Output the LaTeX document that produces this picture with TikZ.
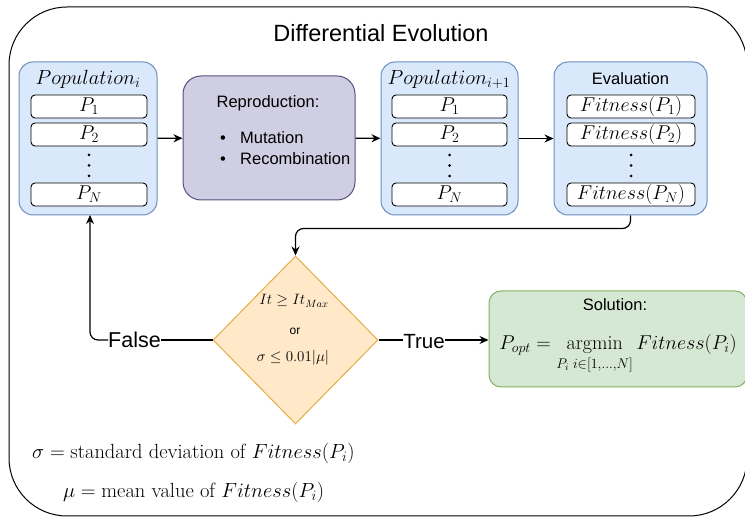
\RequirePackage{fix-cm}
\documentclass[tikz,border=0pt]{standalone}
\usepackage{amsmath}
\usepackage{fontspec}
\newfontfamily\arialfont{Liberation Sans}
\usetikzlibrary{shapes.geometric,arrows.meta}
\definecolor{blueF}{HTML}{DAE8FC}
\definecolor{blueS}{HTML}{6C8EBF}
\definecolor{purpF}{HTML}{D0CEE2}
\definecolor{purpS}{HTML}{56517E}
\definecolor{yelF}{HTML}{FFE9C9}
\definecolor{yelS}{HTML}{E3AC45}
\definecolor{grnF}{HTML}{D5E8D4}
\definecolor{grnS}{HTML}{82B366}
\newcommand\fsz[1]{\fontsize{#1}{#1}\selectfont}
\begin{document}
\begin{tikzpicture}[x=1pt,y=-1pt,
  bluebox/.style={draw=blueS,fill=blueF,rounded corners=14pt,line width=1pt,inner sep=0pt},
  cell/.style={draw=black,fill=white,rounded corners=4pt,line width=0.9pt,minimum height=23pt,inner sep=0pt,font=\fsz{20}},
  arr/.style={-{Stealth[length=9pt,width=8pt]},line width=1.2pt},
  ln/.style={line width=1.2pt},
  sans/.style={font=\arialfont\fsz{#1},inner sep=0pt},
  mth/.style={font=\fsz{#1},inner sep=0pt}]
\useasboundingbox (0,0) rectangle (745,518);
% outer frame
\draw[line width=1pt,rounded corners=58pt] (9,7) rectangle (747,516);
\node[sans=23.5] (title) at (381,33) {Differential Evolution};

% Population_i
\node[bluebox,minimum width=138pt,minimum height=153pt] (popi) at (88,138.5) {};
\node[mth=20.5] (popil) at (88,79) {$Population_i$};
\node[cell,minimum width=116pt] (a1) at (89,106.5) {$P_1$};
\node[cell,minimum width=116pt] (a2) at (89,134.5) {$P_2$};
\node[cell,minimum width=116pt] (aN) at (89,194.5) {$P_N$};
\foreach \yy in {155,165.5,176} \fill (89,\yy) circle (1.5pt);

% Reproduction
\node[draw=purpS,fill=purpF,rounded corners=18pt,line width=1pt,minimum width=172pt,minimum height=124pt] (repro) at (269,138) {};
\node[sans=16.5] (reprol) at (268,103) {Reproduction:};
\node[sans=16.5,anchor=base] (b1) at (223,144) {•};
\node[sans=16.5,anchor=base] (b2) at (223,165) {•};
\node[sans=16.5,anchor=base west] (mut) at (240,144) {Mutation};
\node[sans=16.5,anchor=base west] (rec) at (240,165) {Recombination};

% Population_{i+1}
\node[bluebox,minimum width=137pt,minimum height=153pt] (popj) at (449.5,138.5) {};
\node[mth=20.5] (popjl) at (449,79) {$Population_{i+1}$};
\node[cell,minimum width=115pt] (c1) at (449.5,106.5) {$P_1$};
\node[cell,minimum width=115pt] (c2) at (449.5,134.5) {$P_2$};
\node[cell,minimum width=115pt] (cN) at (449.5,194.5) {$P_N$};
\foreach \yy in {155,165.5,176} \fill (449.5,\yy) circle (1.5pt);

% Evaluation
\node[bluebox,minimum width=153pt,minimum height=153pt] (eval) at (630.5,138.5) {};
\node[sans=16.5] (evall) at (630.5,79) {Evaluation};
\node[cell,minimum width=128pt] (d1) at (631,106.5) {$Fitness(P_1)$};
\node[cell,minimum width=128pt] (d2) at (631,134.5) {$Fitness(P_2)$};
\node[cell,minimum width=128pt] (dN) at (631,194.5) {$Fitness(P_N)$};
\foreach \yy in {155,165.5,176} \fill (631,\yy) circle (1.5pt);

% top arrows
\draw[arr] (popi) -- (repro);
\draw[arr] (repro) -- (popj);
\draw[arr] (popj) -- (eval);

% condition
\node[diamond,draw=yelS,fill=yelF,line width=1pt,minimum width=165pt,minimum height=168pt,inner sep=0pt] (cond) at (295.5,340) {};
\node[mth=15] (c1t) at (294,301) {$It \geq It_{Max}$};
\node[sans=12] (ort) at (295,331) {or};
\node[mth=15] (c2t) at (293,358) {$\sigma \leq 0.01|\mu|$};

\draw[arr,rounded corners=8pt] (eval.south) -- ++(0,13) -| (cond.north);

% False branch
\node[sans=21.5] (false) at (134.5,340) {False};
\coordinate (popin) at (90,215);
\draw[ln] (cond.west) -- (cond.west -| false.east);
\draw[arr,rounded corners=8pt] (cond.west -| false.west) -| (popin);

% Solution
\node[draw=grnS,fill=grnF,rounded corners=12pt,line width=1pt,minimum width=258pt,minimum height=96pt] (sol) at (618,339) {};
\node[sans=16.5] (soll) at (615,305) {Solution:};
\node[mth=20,anchor=base] (solf) at (618,350) {$\displaystyle P_{opt} = \operatorname*{argmin}_{P_i\; i\in[1,\dots,N]} Fitness(P_i)$};

% True branch
\node[sans=20.5] (true) at (424,342) {True};
\draw[ln] (cond.east) -- (cond.east -| true.west);
\draw[arr] (cond.east -| true.east) -- (cond.east -| sol.west);

% legend
\node[mth=20.5,anchor=west] (leg1) at (32,453) {$\sigma = \text{standard deviation of } Fitness(P_i)$};
\node[mth=20.5,anchor=west] (leg2) at (63,492) {$\mu = \text{mean value of } Fitness(P_i)$};
\end{tikzpicture}
\end{document}
